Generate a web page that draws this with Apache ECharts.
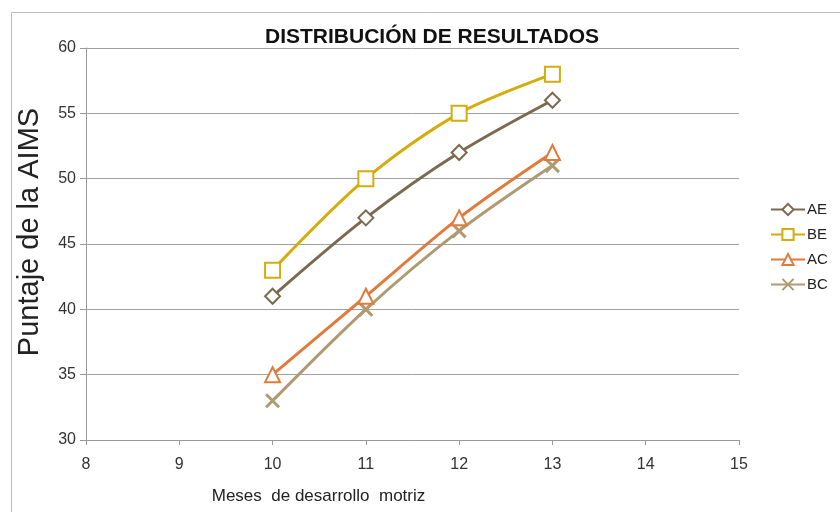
<!DOCTYPE html>
<html>
<head>
<meta charset="utf-8">
<script src="https://cdn.jsdelivr.net/npm/echarts@6/dist/echarts.min.js"></script>
<style>html,body{margin:0;padding:0;background:#fff}#c{width:840px;height:512px}</style>
</head>
<body>
<div id="c"></div>
<script>
const months = [10, 11, 12, 13];
const AE = [41, 47, 52, 56];
const BE = [43, 50, 55, 58];
const AC = [35, 41, 47, 52];
const BC = [33, 40, 46, 51];
const seriesNames = ['AE', 'BE', 'AC', 'BC'];
const colors = ['#7b6a4f', '#d4ad0c', '#e07b3c', '#b09a72'];
const symbols = ['emptyDiamond', 'emptyRect', 'emptyTriangle', 'path://M0,0L10,10M10,0L0,10'];

const chart = echarts.init(document.getElementById('c'), null, {renderer: 'canvas'});
const font = 'Liberation Sans, Arial, sans-serif';
const allData = [AE, BE, AC, BC];

chart.setOption({
  animation: false,
  backgroundColor: '#fff',
  graphic: [{
    type: 'rect', shape: {x: 11.5, y: 12.5, width: 900, height: 600},
    style: {fill: 'none', stroke: '#bdbdbd', lineWidth: 1}, z: -1
  }],
  title: {
    text: 'DISTRIBUCIÓN DE RESULTADOS', left: 427, top: 22, textAlign: 'center',
    textStyle: {fontFamily: font, fontWeight: 'bold', fontSize: 21, color: '#111'}
  },
  legend: {
    orient: 'vertical', left: 765, top: 197, itemGap: 10, itemWidth: 34, itemHeight: 14,
    data: seriesNames,
    textStyle: {fontFamily: font, fontSize: 15, color: '#222', padding: [0,0,0,-3]}
  },
  grid: {left: 86, right: 101, top: 48, bottom: 72, containLabel: false},
  xAxis: {
    type: 'value', min: 8, max: 15, interval: 1,
    name: 'Meses  de desarrollo  motriz', nameLocation: 'middle', nameGap: 48,
    nameTextStyle: {fontFamily: font, fontSize: 17, color: '#222', padding: [0, 188, 0, 0]},
    axisLine: {show: true, lineStyle: {color: '#999', width: 1}},
    axisTick: {show: true, length: 5, lineStyle: {color: '#999'}},
    axisLabel: {fontFamily: font, fontSize: 16, color: '#333', margin: 17},
    splitLine: {show: false}
  },
  yAxis: {
    type: 'value', min: 30, max: 60, interval: 5,
    name: 'Puntaje de la AIMS', nameLocation: 'middle', nameGap: 42,
    nameTextStyle: {fontFamily: font, fontSize: 29, color: '#222', padding: [0,0,0,24]},
    axisLine: {show: true, lineStyle: {color: '#999', width: 1}},
    axisTick: {show: true, length: 6, lineStyle: {color: '#999'}},
    axisLabel: {fontFamily: font, fontSize: 16, color: '#333', margin: 10},
    splitLine: {show: true, lineStyle: {color: '#a0a0a0', width: 1}}
  },
  series: seriesNames.map((n, i) => ({
    name: n, type: 'line', smooth: 0.3,
    data: months.map((m, j) => [m, allData[i][j]]),
    symbol: symbols[i], symbolSize: i === 3 ? 13 : 15,
    showAllSymbol: true,
    lineStyle: {color: colors[i], width: 3},
    itemStyle: {color: colors[i], borderColor: colors[i], borderWidth: 3},
    z: 10 - i
  }))
});
</script>
</body>
</html>
